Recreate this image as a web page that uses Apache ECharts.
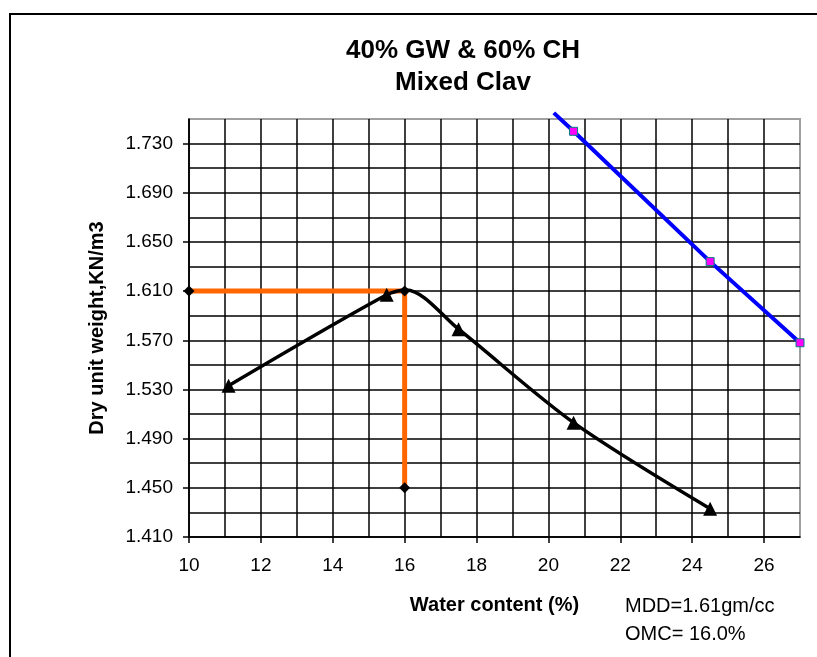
<!DOCTYPE html>
<html>
<head>
<meta charset="utf-8">
<script src="https://cdn.jsdelivr.net/npm/echarts@6/dist/echarts.min.js"></script>
<style>
  html, body { margin: 0; padding: 0; background: #fff; }
  #chart { width: 817px; height: 657px; }
</style>
</head>
<body>
<div id="chart"></div>
<script>
// compaction curve (triangles); the point at 16.05 only shapes the peak
var compaction = [[11.1, 1.533], [15.5, 1.607], [16.05, 1.611], [17.5, 1.579], [20.7, 1.503], [24.5, 1.433]]
// MDD / OMC guide lines
var guide = [[10, 1.61], [16, 1.61], [16, 1.45]]
// zero air voids line, first point runs just past the top of the plot
var zav = [[20.15, 1.755], [20.7, 1.740], [24.5, 1.634], [27, 1.568]]

var xTicks = [10, 12, 14, 16, 18, 20, 22, 24, 26]
var yTicks = [1.41, 1.45, 1.49, 1.53, 1.57, 1.61, 1.65, 1.69, 1.73]

var font = "'Liberation Sans', Arial, sans-serif"

var chart = echarts.init(document.getElementById('chart'))
var option = {
  backgroundColor: '#fff',
  animation: false,
  title: {
    text: '40% GW & 60% CH\nMixed Clav',
    left: 458,
    top: 30,
    textAlign: 'center',
    textStyle: { fontFamily: font, fontSize: 26, fontWeight: 'bold', color: '#000', lineHeight: 32 }
  },
  graphic: [
    {
      type: 'rect',
      shape: { x: 10, y: 14, width: 830, height: 680 },
      style: { fill: 'none', stroke: '#000', lineWidth: 2 },
      silent: true
    },
    {
      type: 'text',
      left: 625,
      top: 592,
      style: { text: 'MDD=1.61gm/cc\nOMC= 16.0%', font: '20px ' + font, fill: '#000', lineHeight: 28 }
    }
  ],
  grid: {
    left: 189,
    right: 17,
    top: 119,
    bottom: 120,
    show: true,
    borderColor: '#a0a0a0',
    borderWidth: 2
  },
  xAxis: [
    {
      type: 'value',
      min: 10,
      max: 27,
      interval: 1,
      axisLine: { show: false },
      axisTick: { show: false },
      axisLabel: { show: false },
      splitLine: { show: true, showMaxLine: false, lineStyle: { color: '#000', width: 1.5 } }
    },
    {
      type: 'value',
      position: 'bottom',
      min: 10,
      max: 27,
      interval: 2,
      name: 'Water content (%)',
      nameLocation: 'middle',
      nameGap: 58,
      nameTextStyle: { fontFamily: font, fontSize: 20, fontWeight: 'bold', color: '#000' },
      axisLine: { show: true, onZero: false, lineStyle: { color: '#000', width: 1.5 } },
      axisTick: { show: true, length: 6, customValues: xTicks, lineStyle: { color: '#000', width: 1.5 } },
      axisLabel: { customValues: xTicks, margin: 19, fontFamily: font, fontSize: 19, color: '#000' },
      splitLine: { show: false }
    }
  ],
  yAxis: [
    {
      type: 'value',
      min: 1.41,
      max: 1.75,
      interval: 0.02,
      axisLine: { show: false },
      axisTick: { show: false },
      axisLabel: { show: false },
      splitLine: { show: true, showMaxLine: false, lineStyle: { color: '#000', width: 1.5 } }
    },
    {
      type: 'value',
      position: 'left',
      min: 1.41,
      max: 1.75,
      interval: 0.04,
      name: 'Dry unit weight,KN/m3',
      nameLocation: 'middle',
      nameGap: 82,
      nameTextStyle: { fontFamily: font, fontSize: 20, fontWeight: 'bold', color: '#000' },
      axisLine: { show: true, onZero: false, lineStyle: { color: '#000', width: 1.5 } },
      axisTick: { show: true, length: 6, customValues: yTicks, lineStyle: { color: '#000', width: 1.5 } },
      axisLabel: {
        customValues: yTicks,
        margin: 16,
        fontFamily: font,
        fontSize: 19,
        color: '#000',
        formatter: function (v) { return v.toFixed(3) }
      },
      splitLine: { show: false }
    }
  ],
  series: [
    {
      name: 'guide',
      type: 'line',
      data: guide,
      lineStyle: { color: '#FF6600', width: 5 },
      symbol: 'diamond',
      symbolSize: 11,
      itemStyle: { color: '#000' },
      z: 3
    },
    {
      name: 'compaction',
      type: 'line',
      data: compaction.map(function (p, i) {
        return i === 2 ? { value: p, symbol: 'none' } : p
      }),
      smooth: 0.3,
      lineStyle: { color: '#000', width: 3.5 },
      symbol: 'triangle',
      symbolSize: 14,
      itemStyle: { color: '#000' },
      z: 4
    },
    {
      name: 'zav',
      type: 'line',
      data: zav.map(function (p, i) {
        return i === 0 ? { value: p, symbol: 'none' } : p
      }),
      clip: false,
      lineStyle: { color: '#0000FF', width: 4 },
      symbol: 'rect',
      symbolSize: 8,
      itemStyle: { color: '#FF00FF', borderColor: '#008080', borderWidth: 1 },
      z: 5
    }
  ]
}
chart.setOption(option)
</script>
</body>
</html>
